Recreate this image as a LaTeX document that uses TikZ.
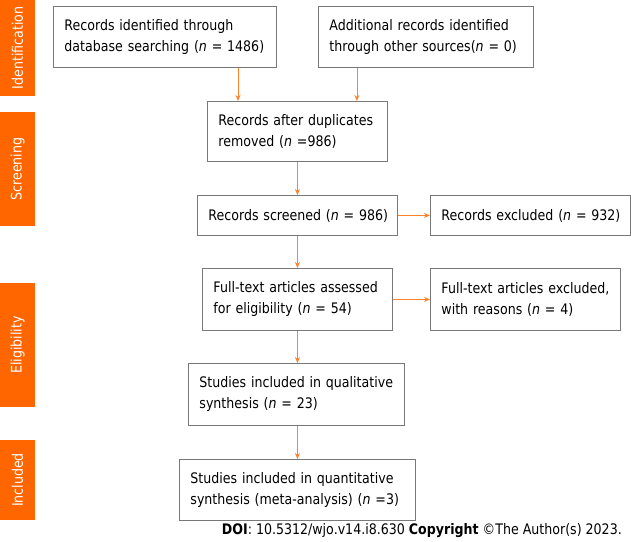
\documentclass[tikz,border=0pt]{standalone}
\usepackage{fontspec}
\setmainfont{DejaVu Sans}[FakeStretch=0.87]
\usetikzlibrary{arrows.meta}
\definecolor{taborange}{RGB}{255,102,0}
\definecolor{arroworange}{RGB}{255,130,45}
\definecolor{boxgray}{RGB}{120,120,120}

\begin{document}
\begin{tikzpicture}[x=1pt,y=-1pt,
    box/.style={draw=boxgray,line width=0.9pt,anchor=north west,align=left,
      inner xsep=11pt,inner ysep=0pt,font=\fontsize{14.5}{21}\selectfont},
    tab/.style={fill=taborange,text=white,rotate=90,inner sep=0pt,
      minimum height=35,font=\fontsize{14.5}{16}\selectfont},
    arr/.style={draw=arroworange,line width=0.8pt,-{Stealth[length=6pt,width=5pt]}}]
  \useasboundingbox (0,0) rectangle (631,541);

  % phase tabs on the left
  \node[tab,minimum width=96]  (tid)  at (17.5,48)  {Identification};
  \node[tab,minimum width=114] (tscr) at (17.5,169) {Screening};
  \node[tab,minimum width=124] (telg) at (17.5,345) {Eligibility};
  \node[tab,minimum width=80]  (tinc) at (17.5,480) {Included};

  % identification
  \node[box,minimum width=223,minimum height=61,text width=201] (dbrec) at (53,6)
    {Records identified through\\database searching (\textit{n} = 1486)};
  \node[box,minimum width=215,minimum height=61,text width=193] (addrec) at (318,6)
    {Additional records identified\\through other sources(\textit{n} = 0)};

  % screening
  \node[box,minimum width=180,minimum height=60,text width=158] (dedup) at (207,101)
    {Records after duplicates\\removed (\textit{n} =986)};
  \node[box,minimum width=200,minimum height=40,text width=178] (scr) at (197,195)
    {\mbox{Records screened (\textit{n} = 986)}};
  \node[box,minimum width=200,minimum height=40,text width=178] (excl) at (430,195)
    {\mbox{Records excluded (\textit{n} = 932)}};

  % eligibility
  \node[box,minimum width=190,minimum height=62,text width=168] (full) at (202,268)
    {Full-text articles assessed\\for eligibility (\textit{n} = 54)};
  \node[box,minimum width=190,minimum height=62,text width=168] (fullex) at (430,268)
    {Full-text articles excluded,\\with reasons (\textit{n} = 4)};

  % included
  \node[box,minimum width=216,minimum height=62,text width=194] (qual) at (188,363)
    {Studies included in qualitative\\synthesis (\textit{n} = 23)};
  \node[box,minimum width=236,minimum height=61,text width=214] (quant) at (179,459)
    {Studies included in quantitative\\synthesis (meta-analysis) (\textit{n} =3)};

  % arrows
  \draw[arr] ([xshift=31]dedup.north west |- dbrec.south) -- ([xshift=31]dedup.north west);
  \draw[arr] ([xshift=-31]dedup.north east |- addrec.south) -- ([xshift=-31]dedup.north east);
  \draw[arr] (dedup.south) -- (scr.north);
  \draw[arr] (scr.east) -- (excl.west);
  \draw[arr] (scr.south) -- (full.north);
  \draw[arr] (full.east) -- (fullex.west);
  \draw[arr] (full.south) -- (full.south |- qual.north);
  \draw[arr] (quant.north |- qual.south) -- (quant.north);

  \node[anchor=east,inner sep=0pt,font=\fontsize{14.5}{16}\selectfont] (doi) at (622,531)
    {\textbf{DOI}: 10.5312/wjo.v14.i8.630 \textbf{Copyright} ©The Author(s) 2023.};
\end{tikzpicture}
\end{document}
